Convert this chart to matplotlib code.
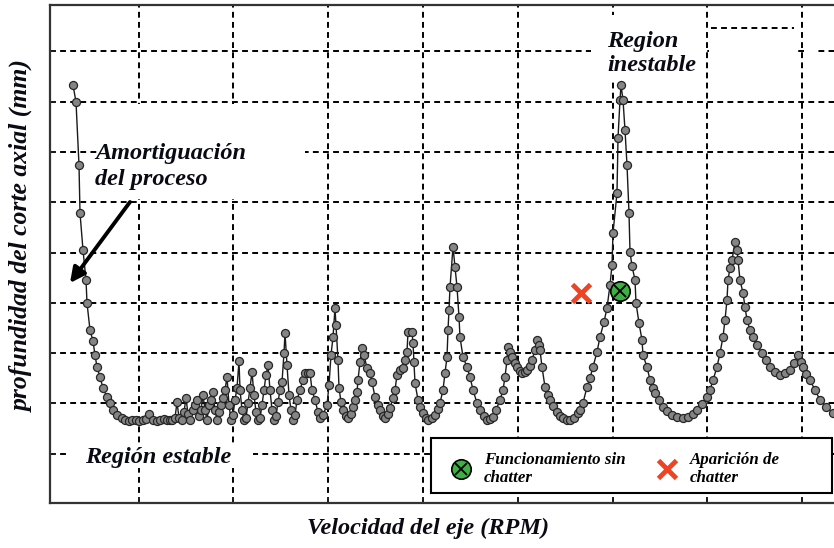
import numpy as np
import matplotlib
matplotlib.use('Agg')
import matplotlib.pyplot as plt
from matplotlib.patches import Rectangle
from matplotlib.font_manager import FontProperties

# velocidad del eje (RPM) y profundidad de corte (mm)
speed = [730, 760, 790, 800, 830, 860, 870, 900, 930, 950, 970, 1000, 1030, 1070, 1100,
         1130, 1170, 1220, 1250, 1290, 1320, 1360, 1390, 1430, 1460, 1490, 1530, 1570,
         1600, 1640, 1670, 1700,
         1720, 1750, 1770, 1790, 1820, 1840, 1860, 1880, 1900, 1930, 1950, 1970, 1990,
         2010, 2030, 2050, 2070, 2090, 2110, 2130, 2150, 2170, 2190, 2210, 2230, 2250,
         2270, 2290, 2310, 2330, 2350, 2370, 2390, 2400, 2420, 2440, 2460, 2480, 2500,
         2520, 2540, 2560, 2580, 2600, 2620, 2640, 2660, 2680, 2700, 2720, 2740, 2760,
         2780, 2800, 2820, 2840, 2850, 2870, 2890, 2910, 2930, 2950, 2970, 3000, 3030,
         3050, 3080, 3100, 3120, 3150, 3180, 3200, 3230, 3270, 3290, 3310, 3330, 3350,
         3360, 3380, 3390, 3410, 3430, 3460, 3480, 3510, 3530, 3550, 3570, 3580, 3600,
         3620, 3640, 3670, 3700, 3720, 3750, 3780, 3800, 3830, 3850, 3880, 3900, 3930,
         3950, 3970, 4000, 4030, 4050, 4070, 4080, 4120, 4130, 4140, 4150, 4180, 4200,
         4230, 4260, 4280, 4320, 4350, 4380, 4400, 4430, 4450, 4470, 4480, 4490, 4500,
         4530, 4550, 4570, 4590, 4600, 4630, 4670, 4700, 4730, 4770, 4800, 4840, 4870,
         4900, 4930, 4960, 5000, 5030, 5050, 5070, 5080, 5100, 5120, 5150, 5170, 5200,
         5220, 5250, 5270, 5300, 5320, 5350, 5370, 5390, 5400, 5420, 5450, 5480, 5500,
         5530, 5570, 5600, 5630, 5670, 5700, 5740, 5780, 5800, 5830, 5870, 5900, 5930,
         5970, 6000, 6040, 6070, 6100, 6120, 6130, 6170, 6180, 6200, 6210, 6230, 6250,
         6270, 6290, 6300, 6320, 6350, 6360, 6390, 6420, 6430, 6470, 6500, 6530, 6550,
         6590, 6630, 6670, 6720, 6770, 6830, 6880, 6930, 6970, 7020, 7070, 7100, 7130,
         7170, 7200, 7230, 7250, 7270, 7280, 7300, 7320, 7350, 7370, 7380, 7400, 7430,
         7450, 7470, 7500, 7530, 7570, 7620, 7660, 7700, 7750, 7800, 7850, 7900, 7940,
         7980, 8010, 8030, 8060, 8100, 8150, 8200, 8260, 8330, 8400]
depth = [4.18, 4.01, 3.38, 2.90, 2.53, 2.23, 2.00, 1.73, 1.62, 1.48, 1.36, 1.26, 1.15, 1.06, 1.00,
         0.93, 0.88, 0.85, 0.83, 0.82, 0.83, 0.83, 0.82, 0.83, 0.84, 0.89, 0.83, 0.82,
         0.83, 0.84, 0.83, 0.83,
         0.83, 0.85, 1.01, 0.85, 0.83, 0.91, 1.05, 0.89, 0.83, 0.93, 0.98, 1.03, 0.87,
         0.93, 1.08, 0.93, 0.83, 0.98, 1.03, 1.11, 0.93, 0.83, 0.91, 0.98, 1.05, 1.13,
         1.26, 0.98, 0.83, 0.88, 1.03, 1.15, 1.42, 1.13, 0.93, 0.83, 0.85, 1.00, 1.15,
         1.31, 1.08, 0.91, 0.83, 0.85, 0.98, 1.13, 1.28, 1.38, 1.13, 0.93, 0.83, 0.87,
         1.01, 1.13, 1.21, 1.50, 1.70, 1.38, 1.08, 0.93, 0.83, 0.88, 1.03, 1.13, 1.23,
         1.30, 1.30, 1.30, 1.13, 1.03, 0.91, 0.85, 0.88, 0.98, 1.18, 1.48, 1.66, 1.95,
         1.78, 1.43, 1.15, 1.01, 0.93, 0.87, 0.85, 0.89, 0.96, 1.03, 1.11, 1.23, 1.41,
         1.55, 1.48, 1.35, 1.30, 1.21, 1.06, 0.98, 0.93, 0.87, 0.85, 0.89, 0.95, 1.05,
         1.13, 1.28, 1.33, 1.35, 1.43, 1.51, 1.71, 1.71, 1.60, 1.41, 1.20, 1.03, 0.96,
         0.90, 0.85, 0.83, 0.85, 0.88, 0.94, 1.00, 1.13, 1.30, 1.46, 1.73, 1.93, 2.16,
         2.56, 2.36, 2.16, 1.86, 1.66, 1.46, 1.36, 1.26, 1.13, 1.00, 0.93, 0.87, 0.83,
         0.84, 0.86, 0.93, 1.03, 1.13, 1.26, 1.43, 1.56, 1.51, 1.46, 1.40, 1.36, 1.32,
         1.30, 1.31, 1.33, 1.37, 1.43, 1.53, 1.63, 1.58, 1.53, 1.36, 1.16, 1.08, 1.03,
         0.97, 0.91, 0.87, 0.85, 0.83, 0.83, 0.85, 0.90, 0.93, 1.00, 1.16, 1.25, 1.36,
         1.51, 1.66, 1.81, 1.95, 2.18, 2.38, 2.70, 3.10, 3.65, 4.03, 4.18, 4.03, 3.73,
         3.38, 2.90, 2.51, 2.37, 2.23, 2.00, 1.80, 1.63, 1.48, 1.36, 1.23, 1.15, 1.10,
         1.03, 0.96, 0.92, 0.88, 0.86, 0.85, 0.86, 0.89, 0.93, 0.99, 1.06, 1.13, 1.23,
         1.36, 1.50, 1.66, 1.83, 2.03, 2.23, 2.35, 2.43, 2.61, 2.53, 2.43, 2.23, 2.10,
         1.96, 1.83, 1.73, 1.66, 1.58, 1.50, 1.43, 1.36, 1.31, 1.28, 1.30, 1.33, 1.40,
         1.48, 1.41, 1.36, 1.29, 1.23, 1.13, 1.03, 0.96, 0.90, 0.85]

ok_point = (6200, 2.12)      # funcionamiento sin chatter
chatter_point = (5810, 2.10)  # aparicion de chatter

xgrid = 1385 + 948 * np.arange(8)
ygrid = 0.503 * np.arange(1, 10) - 0.01

ser = dict(family='Liberation Serif', style='italic', weight='bold', color='#0a0a14')

fig = plt.figure(figsize=(8.34, 5.48), dpi=100)
ax = fig.add_axes([50 / 834, 45 / 548, 784 / 834, 498 / 548])
ax.set_xlim(500, 8340)
ax.set_ylim(0, 4.98)
ax.set_xticks(xgrid)
ax.set_yticks(ygrid)
ax.tick_params(direction='in', length=4, width=1.2, labelbottom=False, labelleft=False,
               color='#222222')
ax.set_axisbelow(True)
ax.grid(True, color='black', lw=1.4, dashes=(3, 2.2))
for s in ['left', 'top', 'bottom']:
    ax.spines[s].set_linewidth(1.6)
    ax.spines[s].set_color('#333333')
ax.spines['right'].set_visible(False)

# zonas en blanco del original
for x0, x1, y0, y1 in [(970, 3050, 3.04, 3.99), (5910, 7050, 4.23, 4.88),
                       (7090, 7980, 4.41, 4.63), (8040, 8160, 4.41, 4.63),
                       (670, 2530, 0.35, 0.59)]:
    ax.add_patch(Rectangle((x0, y0), x1 - x0, y1 - y0, facecolor='white',
                           edgecolor='none', zorder=1))
ax.plot([7110, 7940], [4.75, 4.75], color='black', lw=1.4, dashes=(3, 2.2), zorder=1.2)

ax.plot(speed, depth, '-o', color='#1a1a1a', lw=1.0, ms=5.8, mfc='#858585',
        mec='#262626', mew=0.9, zorder=3)

g1, = ax.plot(*ok_point, 'o', ms=14, mfc='#3cb043', mec='black', mew=1.2, zorder=5)
g2, = ax.plot(*ok_point, 'x', ms=8, mec='black', mew=1.3, zorder=6)
r1, = ax.plot(*chatter_point, 'x', ms=13, mew=3.5, color='#ef4423', zorder=5)

ax.annotate('', xy=(700, 2.20), xytext=(1300, 3.01),
            arrowprops=dict(arrowstyle='-|>,head_length=0.9,head_width=0.45', lw=2.8,
                            color='black', shrinkA=0, shrinkB=0), zorder=6)

ax.text(950, 3.60, 'Amortiguación\ndel proceso', ha='left', va='top', fontsize=17.5,
        linespacing=1.3, zorder=6, **ser)
ax.text(6070, 4.72, 'Region\ninestable', ha='left', va='top', fontsize=17.5,
        linespacing=1.2, zorder=6, **ser)
ax.text(850, 0.46, 'Región estable', ha='left', va='center', fontsize=17.5, zorder=6, **ser)

# caja de la leyenda
ax.add_patch(Rectangle((0.486, 0.02), 0.511, 0.11, transform=ax.transAxes,
                       facecolor='white', edgecolor='black', lw=1.5, zorder=7))
leg = ax.legend([(g1, g2), r1], ['Funcionamiento sin\nchatter', 'Aparición de\nchatter'],
                loc='center left', bbox_to_anchor=(0.506, 0.068), frameon=False,
                ncol=2, borderaxespad=0, borderpad=0, handlelength=1.74,
                handletextpad=0.47, columnspacing=1.55, numpoints=1,
                prop=FontProperties(family='Liberation Serif', style='italic',
                                    weight='bold', size=12.2))
leg.set_zorder(8)

fig.text(0.513, 0.0365, 'Velocidad del eje (RPM)', ha='center', va='center',
         fontsize=17.5, **ser)
fig.text(0.026, 0.569, 'profundidad del corte axial (mm)', ha='center', va='center',
         rotation=90, fontsize=18.5, **ser)

fig.savefig('out.png', dpi=100)
